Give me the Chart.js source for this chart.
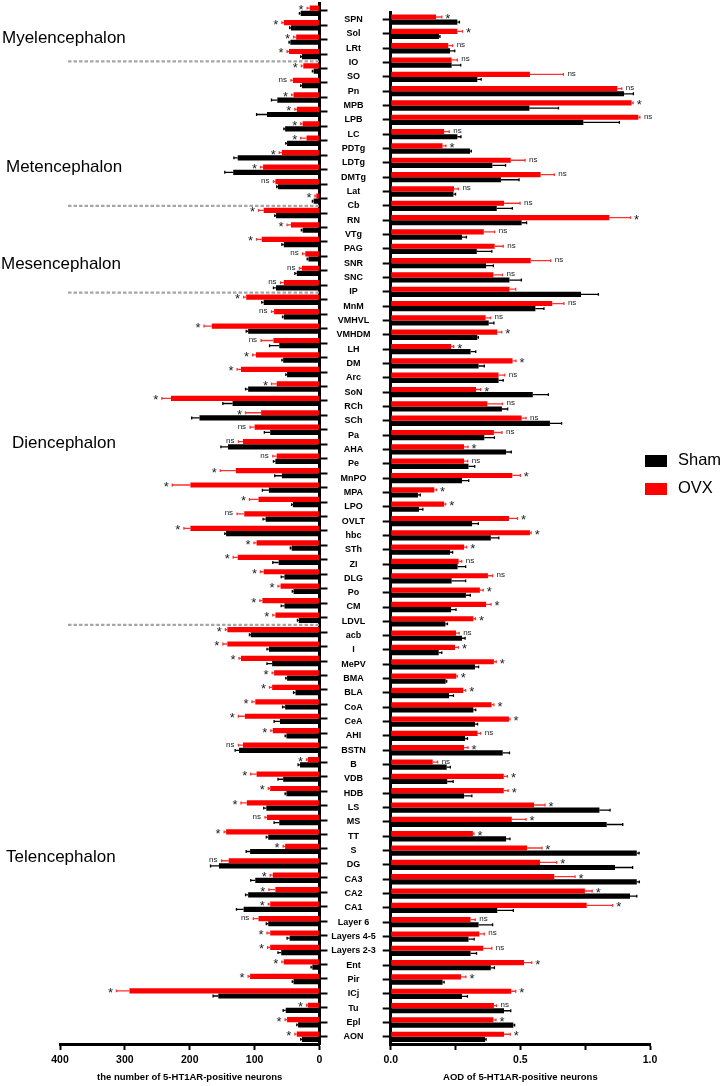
<!DOCTYPE html>
<html>
<head>
<meta charset="utf-8">
<script src="https://cdn.jsdelivr.net/npm/chart.js@4.4.1/dist/chart.umd.min.js"></script>
<style>
  body { margin: 0; background: #fff; width: 724px; height: 1086px; position: relative; overflow: hidden;
         font-family: "Liberation Sans", Arial, sans-serif; }
  canvas { position: absolute; top: 0; }
  #left { left: 0; }
  #right { left: 330px; }
  .region { position: absolute; font-size: 17px; line-height: 20px; color: #000; white-space: nowrap; }
  .legend { position: absolute; left: 645px; font-size: 16.5px; line-height: 20px; }
  .legend span { display: inline-block; width: 22px; height: 12px; vertical-align: middle; margin-right: 11px; }
</style>
</head>
<body>
<canvas id="left" width="330" height="1086"></canvas>
<canvas id="right" width="394" height="1086"></canvas>

<div class="region" style="left:2px;top:28px">Myelencephalon</div>
<div class="region" style="left:6px;top:157px">Metencephalon</div>
<div class="region" style="left:1px;top:254px">Mesencephalon</div>
<div class="region" style="left:12px;top:433px">Diencephalon</div>
<div class="region" style="left:6px;top:847px">Telencephalon</div>

<div class="legend" style="top:449px"><span style="background:#000"></span>Sham</div>
<div class="legend" style="top:477px"><span style="background:#ff0000"></span>OVX</div>

<script>
const regions = ['SPN', 'Sol', 'LRt', 'IO', 'SO', 'Pn', 'MPB', 'LPB', 'LC', 'PDTg', 'LDTg', 'DMTg', 'Lat', 'Cb',
  'RN', 'VTg', 'PAG', 'SNR', 'SNC', 'IP', 'MnM', 'VMHVL', 'VMHDM', 'LH', 'DM', 'Arc', 'SoN', 'RCh', 'SCh', 'Pa',
  'AHA', 'Pe', 'MnPO', 'MPA', 'LPO', 'OVLT', 'hbc', 'STh', 'ZI', 'DLG', 'Po', 'CM', 'LDVL', 'acb', 'I', 'MePV',
  'BMA', 'BLA', 'CoA', 'CeA', 'AHI', 'BSTN', 'B', 'VDB', 'HDB', 'LS', 'MS', 'TT', 'S', 'DG', 'CA3', 'CA2', 'CA1',
  'Layer 6', 'Layers 4-5', 'Layers 2-3', 'Ent', 'Pir', 'ICj', 'Tu', 'Epl', 'AON'];

// dashed separators are drawn below these regions
const dividers = ['IO', 'Cb', 'IP', 'LDVL'];

// number of 5-HT1AR-positive neurons
const shamCount = [29, 44, 45, 27, 9, 27, 65, 81, 53, 50, 126, 133, 64, 9,
  67, 26, 55, 17, 35, 67, 86, 55, 110, 62, 56, 50, 110, 134, 185, 76,
  141, 68, 58, 78, 41, 83, 144, 43, 63, 54, 40, 54, 32, 106, 78, 73,
  50, 37, 53, 61, 51, 124, 30, 56, 51, 82, 62, 79, 107, 155, 99, 110, 117,
  79, 46, 59, 11, 40, 156, 52, 33, 27];
const shamCountErr = [2, 2, 2, 2, 2, 2, 9, 16, 2, 2, 6, 13, 2, 2,
  2, 2, 3, 2, 3, 4, 3, 2, 3, 15, 2, 2, 4, 15, 12, 9,
  11, 3, 11, 10, 2, 4, 2, 2, 9, 5, 2, 5, 2, 2, 3, 8,
  2, 3, 4, 9, 2, 6, 3, 8, 2, 4, 8, 3, 6, 13, 7, 4, 11,
  3, 4, 5, 2, 2, 8, 4, 2, 2];
const ovxCount = [15, 55, 36, 47, 25, 41, 40, 35, 26, 20, 58, 87, 68, 5,
  86, 44, 89, 22, 27, 55, 113, 70, 166, 71, 98, 121, 66, 229, 90, 100,
  118, 66, 129, 199, 94, 116, 199, 97, 126, 86, 60, 88, 68, 142, 142, 121,
  70, 73, 99, 115, 72, 118, 18, 97, 76, 112, 81, 144, 53, 140, 72, 68, 76,
  94, 76, 76, 55, 107, 293, 18, 50, 35];
const ovxCountErr = [4, 3, 4, 3, 3, 3, 3, 3, 3, 9, 4, 4, 3, 2,
  8, 6, 8, 4, 4, 5, 4, 4, 12, 19, 5, 6, 8, 14, 24, 7,
  7, 6, 24, 28, 14, 11, 10, 4, 7, 5, 4, 4, 4, 3, 7, 3,
  3, 4, 5, 10, 3, 7, 2, 9, 3, 9, 3, 3, 3, 11, 4, 10, 3,
  8, 5, 4, 3, 3, 20, 2, 3, 3];
const countSig = ['*', '*', '*', '*', '*', 'ns', '*', '*', '*', '*', '*', '*', 'ns', '*',
  '*', '*', '*', 'ns', 'ns', 'ns', '*', 'ns', '*', 'ns', '*', '*', '*', '*', '*', 'ns',
  'ns', 'ns', '*', '*', '*', 'ns', '*', '*', '*', '*', '*', '*', '*', '*', '*', '*',
  '*', '*', '*', '*', '*', 'ns', '*', '*', '*', '*', 'ns', '*', '*', 'ns', '*', '*', '*',
  'ns', '*', '*', '*', '*', '*', '*', '*', '*'];

// AOD of 5-HT1AR-positive neurons
const shamAOD = [0.257, 0.186, 0.229, 0.235, 0.334, 0.90, 0.535, 0.743, 0.257, 0.306, 0.392, 0.425, 0.242, 0.409,
  0.505, 0.275, 0.332, 0.368, 0.458, 0.734, 0.558, 0.378, 0.334, 0.308, 0.339, 0.416, 0.548, 0.429, 0.614, 0.361,
  0.445, 0.30, 0.275, 0.105, 0.109, 0.314, 0.386, 0.229, 0.258, 0.235, 0.29, 0.233, 0.211, 0.275, 0.185, 0.325,
  0.212, 0.225, 0.319, 0.325, 0.287, 0.432, 0.216, 0.218, 0.283, 0.805, 0.833, 0.445, 0.949, 0.865, 0.949, 0.923, 0.411,
  0.339, 0.30, 0.308, 0.386, 0.20, 0.275, 0.437, 0.473, 0.364];
const shamAODErr = [0.008, 0.004, 0.018, 0.035, 0.015, 0.036, 0.112, 0.139, 0.014, 0.005, 0.051, 0.07, 0.008, 0.06,
  0.019, 0.017, 0.058, 0.028, 0.046, 0.067, 0.033, 0.02, 0.004, 0.02, 0.022, 0.018, 0.06, 0.022, 0.045, 0.039,
  0.02, 0.024, 0.026, 0.009, 0.015, 0.024, 0.031, 0.01, 0.031, 0.054, 0.017, 0.019, 0.008, 0.012, 0.012, 0.014,
  0.004, 0.017, 0.009, 0.01, 0.009, 0.026, 0.014, 0.023, 0.03, 0.041, 0.062, 0.015, 0.009, 0.068, 0.01, 0.026, 0.062,
  0.054, 0.022, 0.023, 0.014, 0.006, 0.021, 0.026, 0.005, 0.004];
const ovxAOD = [0.175, 0.257, 0.222, 0.235, 0.537, 0.874, 0.929, 0.955, 0.206, 0.20, 0.463, 0.578, 0.244, 0.437,
  0.843, 0.359, 0.401, 0.54, 0.396, 0.458, 0.623, 0.366, 0.411, 0.233, 0.47, 0.416, 0.329, 0.373, 0.505, 0.398,
  0.283, 0.283, 0.469, 0.168, 0.206, 0.456, 0.537, 0.283, 0.262, 0.375, 0.344, 0.368, 0.319, 0.252, 0.248, 0.398,
  0.253, 0.28, 0.389, 0.456, 0.335, 0.283, 0.162, 0.436, 0.436, 0.553, 0.467, 0.317, 0.526, 0.576, 0.631, 0.749, 0.756,
  0.308, 0.342, 0.357, 0.514, 0.271, 0.465, 0.398, 0.396, 0.437];
const ovxAODErr = [0.022, 0.02, 0.017, 0.022, 0.129, 0.017, 0.006, 0.006, 0.02, 0.013, 0.055, 0.053, 0.017, 0.062,
  0.082, 0.042, 0.033, 0.077, 0.035, 0.024, 0.045, 0.019, 0.017, 0.01, 0.013, 0.024, 0.018, 0.058, 0.017, 0.031,
  0.015, 0.014, 0.031, 0.009, 0.006, 0.033, 0.005, 0.01, 0.012, 0.018, 0.013, 0.019, 0.008, 0.012, 0.013, 0.009,
  0.004, 0.009, 0.009, 0.004, 0.012, 0.015, 0.019, 0.014, 0.017, 0.042, 0.055, 0.004, 0.057, 0.064, 0.08, 0.028, 0.1,
  0.018, 0.019, 0.033, 0.03, 0.019, 0.017, 0.01, 0.01, 0.024];
const aodSig = ['*', '*', 'ns', 'ns', 'ns', 'ns', '*', 'ns', 'ns', '*', 'ns', 'ns', 'ns', 'ns',
  '*', 'ns', 'ns', 'ns', 'ns', '', 'ns', 'ns', '*', '*', '*', 'ns', '*', 'ns', 'ns', 'ns',
  '*', 'ns', '*', '*', '*', '*', '*', '*', 'ns', 'ns', '*', '*', '*', 'ns', '*', '*',
  '*', '*', '*', '*', 'ns', '*', 'ns', '*', '*', '*', '*', '*', '*', '*', '*', '*', '*',
  'ns', 'ns', 'ns', '*', '*', '*', 'ns', '*', '*'];

const RED = '#ff0000';
const FONT = '"Liberation Sans", Arial, sans-serif';
Chart.defaults.font.family = FONT;
Chart.defaults.color = '#000';

// error bars + significance marks (marks sit next to the OVX bar)
const errorBars = {
  id: 'errorBars',
  afterDatasetsDraw(chart) {
    const ctx = chart.ctx;
    const xs = chart.scales.x;
    const dir = xs.options.reverse ? -1 : 1;
    const ends = [];
    chart.data.datasets.forEach((ds, di) => {
      const meta = chart.getDatasetMeta(di);
      ctx.save();
      ctx.strokeStyle = ds.errColor;
      ctx.lineWidth = 1.3;
      meta.data.forEach((bar, i) => {
        const end = xs.getPixelForValue(ds.data[i] + ds.errors[i]);
        const cap = bar.height * 0.55;
        ctx.beginPath();
        ctx.moveTo(bar.x, bar.y);
        ctx.lineTo(end, bar.y);
        ctx.moveTo(end, bar.y - cap / 2);
        ctx.lineTo(end, bar.y + cap / 2);
        ctx.stroke();
        if (di === 0) ends[i] = {x: end, y: bar.y};
      });
      ctx.restore();
    });
    const marks = chart.data.datasets[0].marks;
    ctx.save();
    ctx.fillStyle = '#222';
    ctx.textAlign = dir < 0 ? 'right' : 'left';
    ctx.textBaseline = 'alphabetic';
    marks.forEach((m, i) => {
      const p = ends[i];
      if (!m) return;
      if (m === '*') {
        ctx.font = '13px ' + FONT;
        ctx.fillText(m, p.x + dir * 3.5, p.y + 6);
      } else {
        ctx.font = '8px ' + FONT;
        ctx.fillText(m, p.x + dir * 4, p.y + 1.5);
      }
    });
    ctx.restore();
  }
};

const separators = {
  id: 'separators',
  afterDatasetsDraw(chart) {
    const {ctx, chartArea} = chart;
    const ys = chart.scales.y;
    ctx.save();
    ctx.strokeStyle = '#a6a6a6';
    ctx.lineWidth = 2.2;
    ctx.setLineDash([3.5, 2]);
    dividers.forEach(name => {
      const i = regions.indexOf(name);
      const y = (ys.getPixelForValue(i) + ys.getPixelForValue(i + 1)) / 2;
      ctx.beginPath();
      ctx.moveTo(chartArea.left + 8, y);
      ctx.lineTo(chartArea.right, y);
      ctx.stroke();
    });
    ctx.restore();
  }
};

function xAxis(opts) {
  return Object.assign({
    min: 0,
    grid: { drawOnChartArea: false, tickLength: 6, tickWidth: 2, tickColor: '#000' },
    border: { color: '#000', width: 3 },
    afterFit: s => { s.height = 42; }
  }, opts);
}

const commonOptions = {
  indexAxis: 'y',
  responsive: false,
  animation: false,
  devicePixelRatio: 1,
  datasets: { bar: { categoryPercentage: 0.72, barPercentage: 1 } },
  plugins: { legend: { display: false }, tooltip: { enabled: false } }
};

new Chart(document.getElementById('left'), {
  type: 'bar',
  data: {
    labels: regions,
    datasets: [
      { label: 'OVX', data: ovxCount, errors: ovxCountErr, marks: countSig, backgroundColor: RED, errColor: '#ff3030' },
      { label: 'Sham', data: shamCount, errors: shamCountErr, backgroundColor: '#000', errColor: '#000' }
    ]
  },
  options: Object.assign({}, commonOptions, {
    layout: { padding: { left: 60, top: 3.5, right: 0, bottom: 0 } },
    scales: {
      x: xAxis({
        reverse: true, max: 400,
        ticks: { stepSize: 100, maxRotation: 0, padding: 4, font: { size: 10.5, weight: 'bold' } },
        title: { display: true, text: 'the number of 5-HT1AR-positive neurons',
                 font: { size: 9.5, weight: 'bold' }, padding: { top: 0, bottom: 3 } }
      }),
      y: {
        position: 'right',
        ticks: { display: false },
        grid: { offset: false, drawOnChartArea: false, tickLength: 8, tickWidth: 2, tickColor: '#000' },
        border: { color: '#000', width: 3 },
        afterFit: s => { s.width = 10.5; }
      }
    }
  }),
  plugins: [errorBars, separators]
});

new Chart(document.getElementById('right'), {
  type: 'bar',
  data: {
    labels: regions,
    datasets: [
      { label: 'OVX', data: ovxAOD, errors: ovxAODErr, marks: aodSig, backgroundColor: RED, errColor: '#ff3030' },
      { label: 'Sham', data: shamAOD, errors: shamAODErr, backgroundColor: '#000', errColor: '#000' }
    ]
  },
  options: Object.assign({}, commonOptions, {
    layout: { padding: { left: 0, top: 3.5, right: 74, bottom: 0 } },
    scales: {
      x: xAxis({
        max: 1,
        ticks: { stepSize: 0.25, maxRotation: 0, padding: 4, font: { size: 10.5, weight: 'bold' },
                 callback: v => (Math.abs(v * 2 - Math.round(v * 2)) < 1e-6 ? v.toFixed(1) : '') },
        title: { display: true, text: 'AOD of 5-HT1AR-positive neurons',
                 font: { size: 9.5, weight: 'bold' }, padding: { top: 0, bottom: 3 } }
      }),
      y: {
        position: 'left',
        ticks: { crossAlign: 'center', padding: 7, font: { size: 9, weight: 'bold' } },
        grid: { offset: false, drawOnChartArea: false, tickLength: 8, tickWidth: 2, tickColor: '#000' },
        border: { color: '#000', width: 3 },
        afterFit: s => { s.width = 60.7; }
      }
    }
  }),
  plugins: [errorBars]
});
</script>
</body>
</html>
